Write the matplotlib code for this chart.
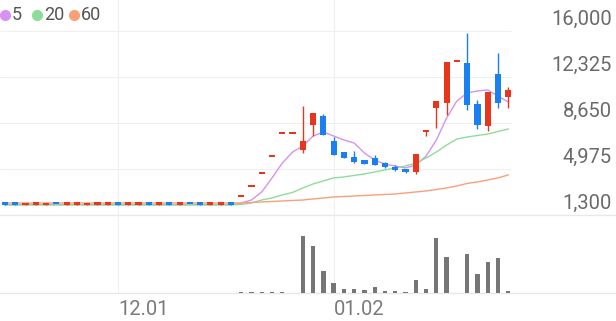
import matplotlib.pyplot as plt

plt.rcParams['font.family'] = ['Roboto', 'DejaVu Sans']

# candle data (index = trading day)
opens = [2180, 2160, 2090, 2110, 2100, 2190, 2110, 2120, 2100, 2110, 2120, 2170,
         2120, 2110, 2170, 2120, 2170, 2130, 2180, 2170, 2120, 2130, 2170,
         2740, 3540, 4580, 5930, 7770, 7770,
         6490, 8490, 9210, 7210, 6330, 5930, 5700, 5850, 5460, 5140, 4980,
         4740, 7930, 9850, 10250, 13530, 13450, 10170, 8410, 12570, 10730]
closes = [2130, 2120, 2140, 2150, 2150, 2140, 2150, 2160, 2150, 2150, 2160, 2130,
          2160, 2160, 2120, 2160, 2130, 2170, 2140, 2120, 2170, 2170, 2130,
          2740, 3540, 4580, 5930, 7770, 7770,
          7210, 9450, 7690, 6090, 5850, 5540, 5380, 5300, 5140, 4900, 4740,
          6170, 8090, 10410, 13530, 13530, 10090, 8490, 11150, 10250, 11290]
highs = [2180, 2160, 2140, 2150, 2150, 2190, 2150, 2160, 2150, 2150, 2160, 2170,
         2160, 2160, 2170, 2160, 2170, 2170, 2180, 2170, 2170, 2170, 2170,
         2740, 3540, 4580, 5930, 7770, 7770,
         10010, 9450, 9370, 7530, 6330, 6410, 5700, 6090, 5560, 5300, 4980,
         6170, 8090, 10410, 13530, 13530, 15840, 10490, 11150, 14240, 11530]
lows = [2130, 2120, 2090, 2110, 2100, 2140, 2110, 2120, 2100, 2110, 2120, 2130,
        2120, 2110, 2120, 2120, 2130, 2130, 2140, 2120, 2120, 2130, 2130,
        2740, 3540, 4580, 5930, 7770, 7770,
        6250, 7610, 7690, 6090, 5850, 5460, 5380, 5300, 5060, 4820, 4660,
        4580, 7610, 8250, 9290, 13530, 9690, 8170, 8010, 9850, 9850]
volumes = [0] * 23 + [60, 60, 70, 70, 60, 0,
                      5700, 4700, 2170, 970, 370, 430, 300, 570, 230, 170, 130,
                      1330, 400, 5500, 3630, 0, 3930, 1900, 3130, 3500, 230]

ma5 = [2140] * 23 + [2260, 2500, 3140, 4260, 5450, 6330, 6810, 7610, 7930, 7610,
                     7290, 7050, 6250, 5690, 5370, 5210, 5060, 5290, 6010, 7290,
                     9050, 10410, 11050, 11210, 11290, 10810, 10330]
ma20 = [2100] * 23 + [2140, 2260, 2500, 2660, 2900, 3100, 3460, 3780, 4020, 4260,
                      4340, 4460, 4580, 4740, 4900, 5050, 5220, 5450, 5850, 6330,
                      6890, 7370, 7530, 7650, 7770, 7970, 8170]
ma60 = [2260] * 23 + [2260, 2300, 2340, 2380, 2420, 2460, 2500, 2580, 2660, 2740,
                      2780, 2820, 2860, 2900, 2940, 2980, 3060, 3140, 3220, 3340,
                      3460, 3620, 3820, 3940, 4100, 4260, 4500]

price_ticks = [1300, 4975, 8650, 12325, 16000]
date_ticks = [11, 32]
date_labels = ["12.01", "01.02"]
ma_names = ["5", "20", "60"]

UP, DOWN = "#e8361c", "#1a7ff0"
MA_COLORS = ["#d592f2", "#8fdc9a", "#f8a07a"]
W, H = 616, 321
STEP = 10.27  # px per candle

fig = plt.figure(figsize=(W / 100, H / 100), dpi=100)


def px_axes(top, bottom):
    a = fig.add_axes([0, 1 - bottom / H, 1, (bottom - top) / H])
    a.set_xlim(-5 / STEP, (W - 5) / STEP)
    a.axis("off")
    return a


ax = px_axes(0, 215)
ax.set_ylim(1300, 1300 + 215 * 79.89)
vax = px_axes(215, 293)
vax.set_ylim(0, 7800)

idx = list(range(len(closes)))
cols = [UP if c >= o else DOWN for o, c in zip(opens, closes)]

# grid
grid_end = (511 - 5) / STEP
ax.hlines(price_ticks[1:], -5 / STEP, grid_end, color="#efefef", lw=0.8, zorder=0)
ax.axhline(1300, color="#e8e8e8", lw=1, clip_on=False, zorder=0)
vax.axhline(0, color="#e8e8e8", lw=1, clip_on=False, zorder=0)
for d in date_ticks:
    ax.axvline(d, color="#efefef", lw=0.8, zorder=0)
    vax.axvline(d, color="#efefef", lw=0.8, zorder=0)

# moving averages
for m, c in zip([ma5, ma20, ma60], MA_COLORS):
    ax.plot(idx, m, color=c, lw=1.0, zorder=2)

# candles
min_body = 190
bottoms = [min(o, c) for o, c in zip(opens, closes)]
heights = [max(abs(c - o), min_body) for o, c in zip(opens, closes)]
ax.vlines(idx, lows, highs, colors=cols, lw=1.0, zorder=3)
ax.bar(idx, heights, bottom=bottoms, width=0.6, color=cols, zorder=3)

# volume
vax.bar(idx, volumes, width=0.42, color="#767676")

# right price labels
for p in price_ticks:
    ax.annotate(f"{p:,}", xy=(1, p), xycoords=("axes fraction", "data"),
                xytext=(-3, 4.5), textcoords="offset points",
                ha="right", va="baseline", fontsize=14.5, color="#6a6a6a",
                annotation_clip=False)

# date labels
for d, lab in zip(date_ticks, date_labels):
    x = (5 + d * STEP) / W
    fig.text(x, 1 - 315 / H, lab, ha="left", va="baseline",
             fontsize=14.5, color="#7a7a7a")

# legend
lx = [5, 37, 74]
for x, name, c in zip(lx, ma_names, MA_COLORS):
    fig.lines.append(plt.Line2D([x / W], [1 - 15 / H], marker="o", ms=7,
                                color=c, transform=fig.transFigure))
    fig.text((x + 7) / W, 1 - 15 / H, name, ha="left", va="center",
             fontsize=13, color="#555555")

fig.savefig("out.png", dpi=100)
